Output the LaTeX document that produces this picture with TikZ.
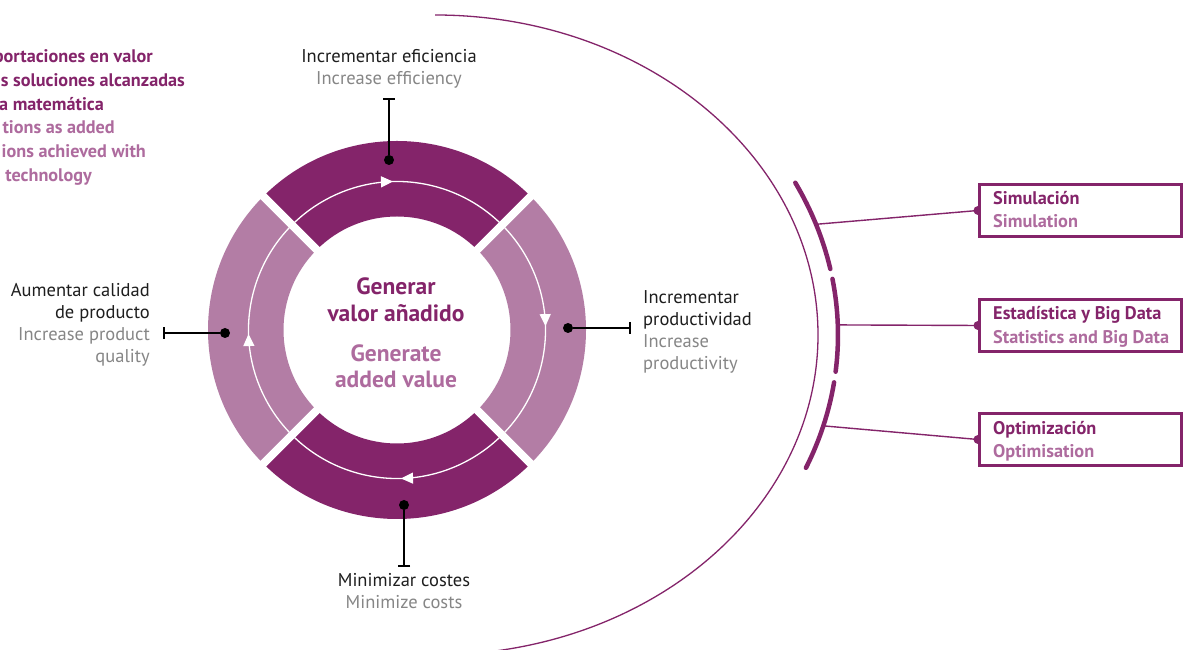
\documentclass[tikz,border=0pt]{standalone}
\usepackage{fontspec}
\setmainfont{PT Sans}
\usetikzlibrary{calc,arrows.meta,decorations.markings}
\definecolor{dpurple}{HTML}{84246A}
\definecolor{lpurple}{HTML}{B37DA5}
\definecolor{tpurple}{HTML}{AE6B9E}
\definecolor{tgray}{HTML}{868686}
\definecolor{tblack}{HTML}{1E1E1E}
\tikzset{
  lbl/.style={inner sep=0pt, font=\fontsize{18.5}{22}\selectfont, text=tblack},
  lblg/.style={lbl, text=tgray},
  ctr/.style={inner sep=0pt, font=\fontsize{23.5}{26}\selectfont\bfseries, text=dpurple, anchor=base},
  ctrl/.style={ctr, text=tpurple},
  note/.style={inner sep=0pt, font=\fontsize{18.2}{22}\selectfont\bfseries, text=dpurple, anchor=base east},
  notel/.style={note, text=tpurple},
  boxt/.style={inner sep=0pt, font=\fontsize{18.3}{22}\selectfont\bfseries, text=dpurple, anchor=base west},
  boxtl/.style={boxt, text=tpurple},
  dot/.style={circle, fill=black, minimum size=10pt, inner sep=0pt},
  pinline/.style={line width=1.8pt, -{Bar[width=12pt]}},
  box/.style={draw=dpurple, line width=3pt, fill=white, minimum width=202pt, minimum height=52pt, inner sep=0pt},
  thickarc/.style={dpurple, line width=4.5pt, line cap=round},
  link/.style={dpurple, line width=1.4pt},
  wtip/.style={white},
}
\begin{document}
\begin{tikzpicture}[x=1pt,y=1pt]
\fill[white] (0,0) rectangle (1187,650);
\useasboundingbox (0,0) rectangle (1187,650);

% ring
\coordinate (C) at (397,320);
\foreach \s/\e/\c in {45/135/dpurple, 135/225/lpurple, 225/315/dpurple, -45/45/lpurple}{
  \fill[\c] ($(C)+(\s:189pt)$) arc[start angle=\s,end angle=\e,radius=189pt]
    -- ($(C)+(\e:113.5pt)$) arc[start angle=\e,end angle=\s,radius=113.5pt] -- cycle;
}
\foreach \a in {45,135,225,315}{
  \draw[white, line width=8pt] ($(C)+(\a:105pt)$) -- ($(C)+(\a:195pt)$);
}
\draw[white, line width=1.3pt,
  decoration={markings,
    mark=at position 0.0792 with {\arrow[wtip]{Triangle[length=12pt,width=11pt]}},
    mark=at position 0.329 with {\arrow[wtip]{Triangle[length=12pt,width=11pt]}},
    mark=at position 0.579 with {\arrow[wtip]{Triangle[length=12pt,width=11pt]}},
    mark=at position 0.829 with {\arrow[wtip]{Triangle[length=12pt,width=11pt]}}},
  postaction=decorate]
  ($(C)+(30:148.5pt)$) arc[start angle=30,end angle=-330,radius=148.5pt];

% centre text
\node[ctr] (c1) at (396,355) {Generar};
\node[ctr] (c2) at (396,328) {valor añadido};
\node[ctrl] (c3) at (396,288) {Generate};
\node[ctrl] (c4) at (396,262) {added value};

% pins
\node[dot] (dT) at (389,490) {};
\coordinate (bT) at (389,552);
\draw[pinline] (dT) -- (bT);
\node[lbl, anchor=base] (tT1) at (389,587) {Incrementar eficiencia};
\node[lblg, anchor=base] (tT2) at (389,565) {Increase efficiency};

\node[dot] (dL) at (225,317) {};
\coordinate (bL) at (163,317);
\draw[pinline] (dL) -- (bL);
\node[lbl, anchor=base east] (tL1) at (150,353) {Aumentar calidad};
\node[lbl, anchor=base east] (tL2) at (150,331) {de producto};
\node[lblg, anchor=base east] (tL3) at (150,309) {Increase product};
\node[lblg, anchor=base east] (tL4) at (150,287) {quality};

\node[dot] (dR) at (568,322) {};
\coordinate (bR) at (631,322);
\draw[pinline] (dR) -- (bR);
\node[lbl, anchor=base west] (tR1) at (643,346) {Incrementar};
\node[lbl, anchor=base west] (tR2) at (643,324) {productividad};
\node[lblg, anchor=base west] (tR3) at (643,302) {Increase};
\node[lblg, anchor=base west] (tR4) at (643,280) {productivity};

\node[dot] (dB) at (404,145) {};
\coordinate (bB) at (404,83);
\draw[pinline] (dB) -- (bB);
\node[lbl, anchor=base] (tB1) at (404,63) {Minimizar costes};
\node[lblg, anchor=base] (tB2) at (404,41) {Minimize costs};

% top-left note
\node[note] (n1) at (153,587) {portaciones en valor};
\node[note] (n2) at (185,563) {s soluciones alcanzadas};
\node[note] (n3) at (104,539) {a matemática};
\node[notel] (n4) at (115,516) {tions as added};
\node[notel] (n5) at (146,492) {ions achieved with};
\node[notel] (n6) at (92,468) {technology};

% big arc
\draw[dpurple, line width=1.3pt] (435,635) arc[start angle=90,end angle=-81,x radius=383pt,y radius=320pt];
\draw[thickarc] ({435+403*cos(26.6)},{315+340*sin(26.6)}) arc[start angle=26.6,end angle=11.2,x radius=403pt,y radius=340pt];
\draw[thickarc] ({435+403*cos(9.5)},{315+340*sin(9.5)}) arc[start angle=9.5,end angle=-6.2,x radius=403pt,y radius=340pt];
\draw[thickarc] ({435+403*cos(-8)},{315+340*sin(-8)}) arc[start angle=-8,end angle=-23,x radius=403pt,y radius=340pt];

\coordinate (a1) at ({435+403*cos(19)},{315+340*sin(19)});
\coordinate (a2) at ({435+403*cos(1.7)},{315+340*sin(1.7)});
\coordinate (a3) at ({435+403*cos(-15.5)},{315+340*sin(-15.5)});

% boxes
\node[box] (B1) at (1080.5,439.5) {};
\node[box] (B2) at (1080.5,324.5) {};
\node[box] (B3) at (1080.5,210.5) {};
\foreach \b/\a in {B1/a1,B2/a2,B3/a3}{
  \draw[link] (\a) -- (\b.west);
  \fill[dpurple] ($(\b.west)+(0,4.5pt)$) arc[start angle=90,end angle=270,radius=4.5pt] -- cycle;
}
\node[boxt] (B1a) at (993,445) {Simulación};
\node[boxtl] (B1b) at (993,422) {Simulation};
\node[boxt] (B2a) at (993,330) {Estadística y Big Data};
\node[boxtl] (B2b) at (993,306) {Statistics and Big Data};
\node[boxt] (B3a) at (993,215) {Optimización};
\node[boxtl] (B3b) at (993,192) {Optimisation};
\end{tikzpicture}
\end{document}
